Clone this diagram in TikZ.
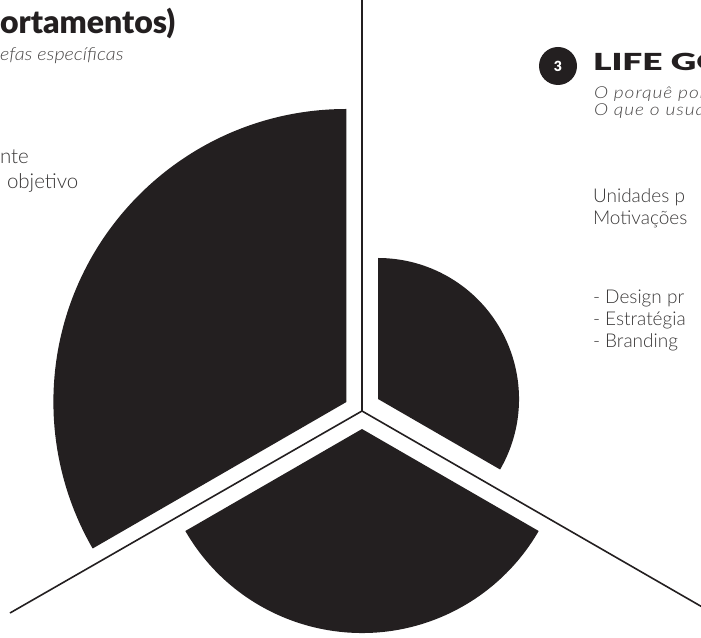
\documentclass[tikz,border=0pt]{standalone}
\usepackage{fontspec}
\setmainfont{Lato}
\newfontfamily\lightfont{Lato Light}
\newfontfamily\blackfont{Lato Black}
\definecolor{ink}{HTML}{231F20}
\definecolor{bodytext}{HTML}{3A3838}
\definecolor{subtext}{HTML}{484646}
\tikzset{
  sector/.style={fill=ink, draw=none},
  divider/.style={draw=ink, line width=1.6pt},
  txt/.style={anchor=base west, inner sep=0pt, outer sep=0pt},
  heading/.style={txt, text=ink, font=\blackfont\fontsize{32}{34}\selectfont},
  wideheading/.style={txt, text=ink, xscale=1.5, font=\blackfont\fontsize{23.5}{25}\selectfont},
  subhead/.style={txt, text=subtext, xscale=1.1,
    font=\lightfont\itshape\fontsize{18}{20}\selectfont},
  widesubhead/.style={txt, text=subtext, xscale=1.16,
    font=\lightfont\itshape\addfontfeatures{LetterSpace=5}\fontsize{16.5}{18}\selectfont},
  body/.style={txt, text=bodytext, font=\lightfont\fontsize{19}{22}\selectfont},
  bodyleft/.style={body, font=\lightfont\fontsize{20.5}{24}\selectfont},
  badge/.style={circle, fill=ink, minimum size=38pt, inner sep=0pt, text=white,
    font=\blackfont\fontsize{14}{14}\selectfont}
}
\begin{document}
\begin{tikzpicture}[x=1pt, y=1pt]
\useasboundingbox (0,0) rectangle (701,637);
\clip (0,0) rectangle (701,637);

% hub of the three dividers
\coordinate (hub) at (362,226);
\coordinate (topend) at (362,640);
\coordinate (leftend) at (10,24);
\coordinate (rightend) at (730,14);

% three sectors, each pulled away from the hub along its bisector
\coordinate (apexL) at (346.4,235);
\coordinate (apexB) at (362,208);
\coordinate (apexR) at (378,238);
\fill[sector] (apexL) -- ++(90:293) arc[start angle=90, end angle=210, radius=293] -- cycle;
\fill[sector] (apexB) -- ++(210:204) arc[start angle=210, end angle=330, radius=204] -- cycle;
\fill[sector] (apexR) -- ++(-30:141) arc[start angle=-30, end angle=90, radius=141] -- cycle;

% dividers
\draw[divider] (hub) -- (topend);
\draw[divider] (hub) -- (leftend);
\draw[divider] (hub) -- (rightend);

% left column
\node[heading] (h2) at (0,603) {ortamentos)};
\node[subhead] (s2) at (0,576) {efas específicas};
\node[bodyleft] (l1) at (0,473) {nte};
\node[bodyleft] (l2) at (7,448) {objetivo};

% right column
\node[badge] (n3) at (558,571) {3};
\node[wideheading] (h3) at (593,566) {LIFE GO};
\node[widesubhead] (s3a) at (594,538) {O porquê por};
\node[widesubhead] (s3b) at (594,521) {O que o usuá};
\node[body] (r1) at (593,434) {Unidades p};
\node[body] (r2) at (593,412) {Motivações};
\node[body] (r3) at (593,333) {- Design pr};
\node[body] (r4) at (593,311) {- Estratégia};
\node[body] (r5) at (593,289) {- Branding};
\end{tikzpicture}
\end{document}
